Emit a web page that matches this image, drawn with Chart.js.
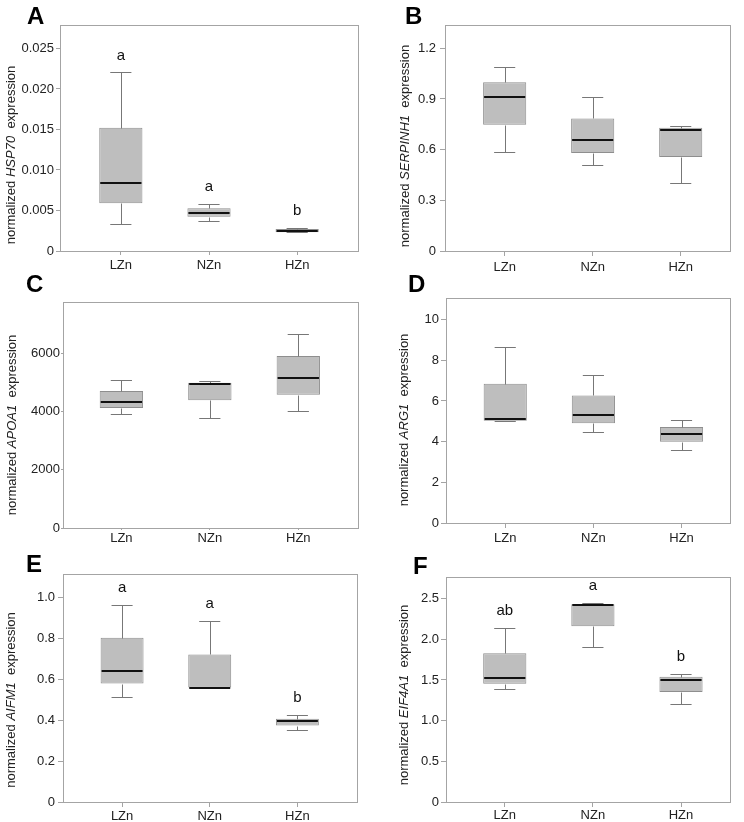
<!DOCTYPE html>
<html>
<head>
<meta charset="utf-8">
<script src="https://cdn.jsdelivr.net/npm/chart.js@4.4.0/dist/chart.umd.min.js"></script>
<style>
  body { margin: 0; background: #fff; width: 744px; height: 822px; position: relative; overflow: hidden;
         font-family: 'Liberation Sans', Arial, sans-serif; }
  canvas { position: absolute; }
  .letter { position: absolute; font-weight: bold; font-size: 24px; line-height: 24px; color: #000; }
  .ytitle { position: absolute; font-size: 13px; line-height: 13px; white-space: nowrap; color: #222;
            transform: translate(-50%, -50%) rotate(-90deg); }
</style>
</head>
<body>
<script>
const groups = ['LZn', 'NZn', 'HZn'];

// [min, Q1, median, Q3, max] for each group
const hsp70 = [[0.00333, 0.00588, 0.00843, 0.01521, 0.02204], [0.00374, 0.00423, 0.00474, 0.00527, 0.00576], [0.0023, 0.0023, 0.0025, 0.00271, 0.0028]];
const serpinh1 = [[0.584, 0.748, 0.910, 0.999, 1.088], [0.507, 0.580, 0.655, 0.785, 0.914], [0.401, 0.557, 0.714, 0.730, 0.742]];
const apoa1 = [[3912, 4130, 4336, 4715, 5105], [3786, 4394, 4956, 5002, 5070], [4015, 4589, 5174, 5919, 6688]];
const arg1 = [[5.0, 5.03, 5.10, 6.85, 8.63], [4.49, 4.90, 5.31, 6.27, 7.27], [3.59, 3.99, 4.36, 4.72, 5.07]];
const aifm1 = [[0.516, 0.580, 0.642, 0.804, 0.966], [0.560, 0.560, 0.560, 0.722, 0.886], [0.351, 0.374, 0.395, 0.408, 0.425]];
const eif4a1 = [[1.389, 1.455, 1.525, 1.828, 2.135], [1.902, 2.160, 2.418, 2.430, 2.443], [1.200, 1.352, 1.504, 1.541, 1.578]];

// significance letters
const hsp70Letters = ['a', 'a', 'b'];
const aifm1Letters = ['a', 'a', 'b'];
const eif4a1Letters = ['ab', 'a', 'b'];

// y ticks
const hsp70Ticks = [0, 0.005, 0.010, 0.015, 0.020, 0.025];
const hsp70TickLabels = ['0', '0.005', '0.010', '0.015', '0.020', '0.025'];
const serpinh1Ticks = [0, 0.3, 0.6, 0.9, 1.2];
const serpinh1TickLabels = ['0', '0.3', '0.6', '0.9', '1.2'];
const apoa1Ticks = [0, 2000, 4000, 6000];
const apoa1TickLabels = ['0', '2000', '4000', '6000'];
const arg1Ticks = [0, 2, 4, 6, 8, 10];
const arg1TickLabels = ['0', '2', '4', '6', '8', '10'];
const aifm1Ticks = [0, 0.2, 0.4, 0.6, 0.8, 1.0];
const aifm1TickLabels = ['0', '0.2', '0.4', '0.6', '0.8', '1.0'];
const eif4a1Ticks = [0, 0.5, 1.0, 1.5, 2.0, 2.5];
const eif4a1TickLabels = ['0', '0.5', '1.0', '1.5', '2.0', '2.5'];

// layout: plot = [left, top, right, bottom] in page pixels
const panels = [
  { id: 'A', gene: 'HSP70', stats: hsp70, ticks: hsp70Ticks, labels: hsp70TickLabels, letters: hsp70Letters,
    yMax: 0.0279, x0: 0, plot: [60, 25, 358, 251], xMin: -0.69, xMax: 2.69, tick: 4, pad: 2, xPad: 3, title: [10, 155], mark: [27, 4] },
  { id: 'B', gene: 'SERPINH1', stats: serpinh1, ticks: serpinh1Ticks, labels: serpinh1TickLabels, letters: null,
    yMax: 1.338, x0: 372, plot: [445, 25, 730, 251], xMin: -0.678, xMax: 2.56, tick: 5, pad: 4, xPad: 4, title: [404, 146], mark: [405, 4] },
  { id: 'C', gene: 'APOA1', stats: apoa1, ticks: apoa1Ticks, labels: apoa1TickLabels, letters: null,
    yMax: 7780, x0: 0, plot: [63, 302, 358, 528], xMin: -0.66, xMax: 2.675, tick: 2, pad: 1, xPad: 1, title: [11, 425], mark: [26, 272] },
  { id: 'D', gene: 'ARG1', stats: arg1, ticks: arg1Ticks, labels: arg1TickLabels, letters: null,
    yMax: 11.06, x0: 372, plot: [446, 298, 730, 523], xMin: -0.672, xMax: 2.55, tick: 5, pad: 2, xPad: 3, title: [403, 420], mark: [408, 272] },
  { id: 'E', gene: 'AIFM1', stats: aifm1, ticks: aifm1Ticks, labels: aifm1TickLabels, letters: aifm1Letters,
    yMax: 1.116, x0: 0, plot: [63, 574, 357, 802], xMin: -0.674, xMax: 2.68, tick: 5, pad: 3, xPad: 2, title: [10, 700], mark: [26, 552] },
  { id: 'F', gene: 'EIF4A1', stats: eif4a1, ticks: eif4a1Ticks, labels: eif4a1TickLabels, letters: eif4a1Letters,
    yMax: 2.766, x0: 372, plot: [446, 577, 730, 802], xMin: -0.667, xMax: 2.556, tick: 5, pad: 2, xPad: 1, title: [403, 695], mark: [413, 554] }
];

const FRAME = '#a4a4a4';
const TEXT = '#222';
const FONT = "'Liberation Sans', Arial, sans-serif";

function boxWhiskers(p) {
  return {
    id: 'boxWhiskers',
    beforeDatasetsDraw(chart) {
      const { ctx, chartArea: a } = chart;
      ctx.save();
      ctx.strokeStyle = FRAME;
      ctx.lineWidth = 1;
      ctx.strokeRect(Math.round(a.left) + 0.5, Math.round(a.top) + 0.5, Math.round(a.width), Math.round(a.height));
      ctx.restore();
    },
    afterDatasetsDraw(chart) {
      const { ctx, scales: { x, y } } = chart;
      const bars = chart.getDatasetMeta(0).data;
      ctx.save();
      p.stats.forEach(function (s, i) {
        const cx = Math.round(x.getPixelForValue(i)) + 0.5;
        const capL = x.getPixelForValue(i - 0.12);
        const capR = x.getPixelForValue(i + 0.12);
        const py = s.map(v => Math.round(y.getPixelForValue(v)) + 0.5);
        ctx.strokeStyle = '#777';
        ctx.lineWidth = 1;
        ctx.beginPath();
        ctx.moveTo(cx, py[3]); ctx.lineTo(cx, py[4]);
        ctx.moveTo(capL, py[4]); ctx.lineTo(capR, py[4]);
        ctx.moveTo(cx, py[1]); ctx.lineTo(cx, py[0]);
        ctx.moveTo(capL, py[0]); ctx.lineTo(capR, py[0]);
        ctx.stroke();

        const bar = bars[i];
        const med = Math.round(y.getPixelForValue(s[2]));
        ctx.strokeStyle = '#111';
        ctx.lineWidth = 2;
        ctx.beginPath();
        ctx.moveTo(bar.x - bar.width / 2 + 1, med);
        ctx.lineTo(bar.x + bar.width / 2 - 1, med);
        ctx.stroke();
      });
      if (p.letters) {
        ctx.fillStyle = '#111';
        ctx.font = '15px ' + FONT;
        ctx.textAlign = 'center';
        ctx.textBaseline = 'middle';
        p.letters.forEach(function (t, i) {
          ctx.fillText(t, x.getPixelForValue(i), y.getPixelForValue(p.stats[i][4]) - 17);
        });
      }
      ctx.restore();
    }
  };
}

panels.forEach(function (p) {
  const top = p.plot[1] - 20;
  const height = p.plot[3] - top + 28;
  const canvas = document.createElement('canvas');
  canvas.width = 372;
  canvas.height = height;
  canvas.style.left = p.x0 + 'px';
  canvas.style.top = top + 'px';
  document.body.appendChild(canvas);

  const mark = document.createElement('div');
  mark.className = 'letter';
  mark.textContent = p.id;
  mark.style.left = p.mark[0] + 'px';
  mark.style.top = p.mark[1] + 'px';
  document.body.appendChild(mark);

  const title = document.createElement('div');
  title.className = 'ytitle';
  title.innerHTML = 'normalized <i>' + p.gene + '</i>&nbsp; expression';
  title.style.left = p.title[0] + 'px';
  title.style.top = p.title[1] + 'px';
  document.body.appendChild(title);

  new Chart(canvas, {
    type: 'bar',
    data: {
      datasets: [{
        data: p.stats.map((s, i) => ({ x: i, y: [s[1], s[3]] })),
        backgroundColor: '#bebebe',
        borderColor: '#8e8e8e',
        borderWidth: 1,
        borderSkipped: false,
        barPercentage: 0.49,
        categoryPercentage: 1
      }]
    },
    options: {
      responsive: false,
      animation: false,
      events: [],
      layout: { padding: { top: 20, right: p.x0 + 372 - p.plot[2], left: 0, bottom: 0 } },
      plugins: { legend: { display: false }, tooltip: { enabled: false } },
      scales: {
        x: {
          type: 'linear',
          min: p.xMin,
          max: p.xMax,
          offset: false,
          afterFit: function (scale) { scale.height = 28; },
          afterBuildTicks: function (scale) { scale.ticks = groups.map((g, i) => ({ value: i })); },
          ticks: {
            callback: function (v) { return groups[v]; },
            padding: p.xPad,
            color: TEXT,
            font: { family: FONT, size: 13 },
            maxRotation: 0,
            autoSkip: false
          },
          grid: { offset: false, drawOnChartArea: false, tickLength: p.tick, color: FRAME },
          border: { display: false }
        },
        y: {
          min: 0,
          max: p.yMax,
          afterFit: function (scale) { scale.width = p.plot[0] - p.x0; },
          afterBuildTicks: function (scale) { scale.ticks = p.ticks.map(v => ({ value: v })); },
          ticks: {
            callback: function (v, i) { return p.labels[i]; },
            padding: p.pad,
            color: TEXT,
            font: { family: FONT, size: 13 }
          },
          grid: { drawOnChartArea: false, tickLength: p.tick, color: FRAME },
          border: { display: false }
        }
      }
    },
    plugins: [boxWhiskers(p)]
  });
});
</script>
</body>
</html>
